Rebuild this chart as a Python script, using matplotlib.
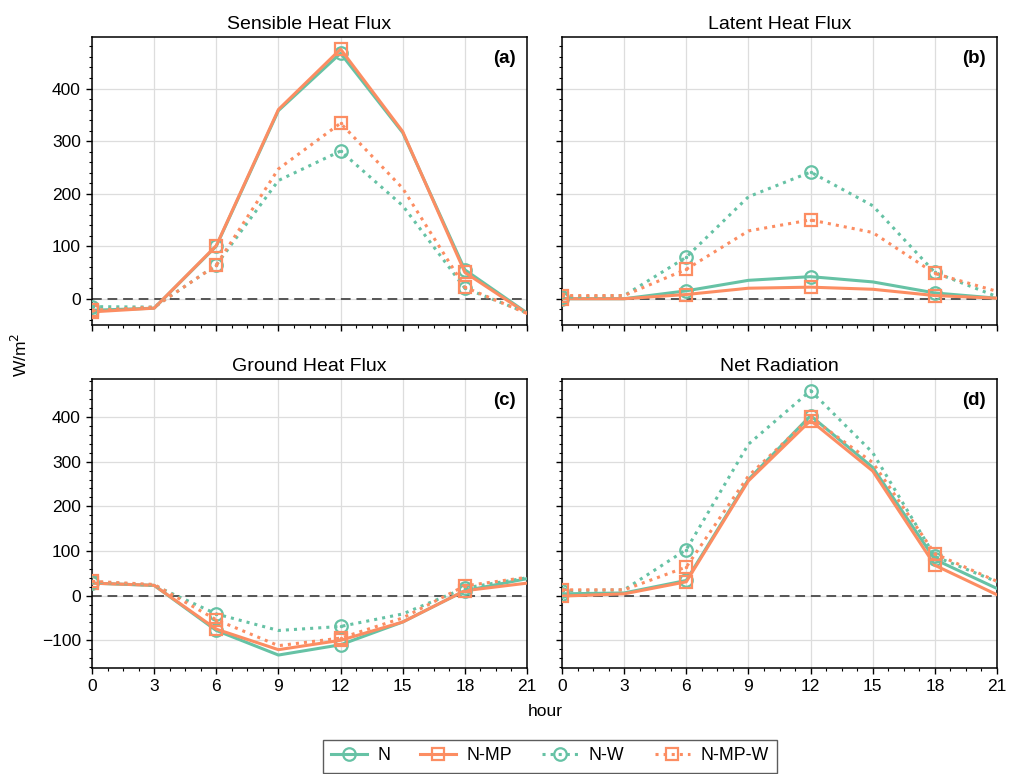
import matplotlib
matplotlib.use("Agg")
import matplotlib.pyplot as plt
from matplotlib.ticker import MultipleLocator
from matplotlib.lines import Line2D

plt.rcParams['font.family'] = ['Liberation Sans', 'DejaVu Sans']

hours = [0, 3, 6, 9, 12, 15, 18, 21]
series_names = ["N", "N-MP", "N-W", "N-MP-W"]
titles = ["Sensible Heat Flux", "Latent Heat Flux", "Ground Heat Flux", "Net Radiation"]
panel_labels = ["(a)", "(b)", "(c)", "(d)"]

# Sensible heat flux
sh_N      = [-22, -18, 100, 358, 467, 316, 55, -27]
sh_NMP    = [-25, -18, 101, 360, 475, 318, 50, -28]
sh_NW     = [-15, -16, 64, 225, 281, 177, 20, -27]
sh_NMPW   = [-22, -16, 64, 247, 334, 210, 22, -28]
# Latent heat flux
lh_N      = [0, 0, 15, 35, 42, 32, 11, 1]
lh_NMP    = [0, 0, 8, 20, 22, 18, 6, 1]
lh_NW     = [3, 6, 79, 194, 241, 177, 50, 4]
lh_NMPW   = [6, 6, 56, 129, 150, 126, 48, 14]
# Ground heat flux
gh_N      = [28, 23, -78, -133, -110, -59, 11, 38]
gh_NMP    = [28, 23, -75, -121, -100, -59, 11, 28]
gh_NW     = [31, 23, -41, -78, -69, -41, 17, 40]
gh_NMPW   = [32, 25, -54, -112, -95, -50, 22, 41]
# Net radiation
nr_N      = [4, 6, 34, 260, 403, 287, 81, 16]
nr_NMP    = [-1, 4, 31, 257, 392, 279, 68, 2]
nr_NW     = [11, 13, 103, 339, 459, 320, 88, 31]
nr_NMPW   = [13, 13, 64, 268, 399, 298, 94, 32]

panels = [
    [sh_N, sh_NMP, sh_NW, sh_NMPW],
    [lh_N, lh_NMP, lh_NW, lh_NMPW],
    [gh_N, gh_NMP, gh_NW, gh_NMPW],
    [nr_N, nr_NMP, nr_NW, nr_NMPW],
]

teal = "#66c2a5"
orange = "#fc8d62"
styles = [
    dict(color=teal, ls="-", marker="o", lw=2.2),
    dict(color=orange, ls="-", marker="s", lw=2.2),
    dict(color=teal, ls=":", marker="o", lw=2.2),
    dict(color=orange, ls=":", marker="s", lw=2.2),
]

fig = plt.figure(figsize=(10.18, 7.74), dpi=100)
W, H = 1018, 774
boxes = [(92, 37, 527, 325), (562, 37, 997, 325), (92, 379, 527, 668), (562, 379, 997, 668)]
ylims = [(-50, 498), (-50, 498), (-162, 485), (-162, 485)]

axes = []
for i, (x0, y0, x1, y1) in enumerate(boxes):
    ax = fig.add_axes([x0 / W, 1 - y1 / H, (x1 - x0) / W, (y1 - y0) / H])
    axes.append(ax)
    ax.axhline(0, color="#555555", ls=(0, (5, 3)), lw=1.4, zorder=1)
    for data, st in zip(panels[i], styles):
        ax.plot(hours, data, color=st["color"], ls=st["ls"], lw=st["lw"],
                marker=st["marker"], markevery=2, markersize=9,
                markerfacecolor="none", markeredgewidth=1.6, zorder=3)
        if st["ls"] == ":":
            ax.plot(hours[::2], data[::2], ls="none", marker=".", markersize=3,
                    color=st["color"], zorder=3)
    ax.set_xlim(0, 21)
    ax.set_ylim(*ylims[i])
    ax.xaxis.set_major_locator(MultipleLocator(3))
    ax.xaxis.set_minor_locator(MultipleLocator(0.75))
    ax.yaxis.set_major_locator(MultipleLocator(100))
    ax.yaxis.set_minor_locator(MultipleLocator(20))
    ax.grid(True, which="major", color="#dddddd", lw=0.9, zorder=0)
    ax.set_axisbelow(True)
    ax.tick_params(which="major", length=4.5, width=1, labelsize=12.5, direction="out")
    ax.tick_params(which="minor", length=2.5, width=0.8, direction="out")
    for sp in ax.spines.values():
        sp.set_linewidth(1.1)
    ax.set_title(titles[i], fontsize=14, pad=6)
    ax.text(0.975, 0.955, panel_labels[i], transform=ax.transAxes, ha="right", va="top",
            fontsize=13.5, fontweight="bold")
    if i in (0, 1):
        ax.tick_params(labelbottom=False)
    if i in (1, 3):
        ax.tick_params(labelleft=False)

fig.text(20 / W, 1 - 355 / H, "W/m$^2$", rotation=90, ha="center", va="center", fontsize=12.5)
fig.text(545 / W, 1 - 712 / H, "hour", ha="center", va="center", fontsize=12.5)

handles = []
for name, st in zip(series_names, styles):
    handles.append(Line2D([], [], color=st["color"], ls=st["ls"], lw=st["lw"],
                          marker=st["marker"], markersize=9, markerfacecolor="none",
                          markeredgewidth=1.6, label=name))
leg = fig.legend(handles=handles, loc="center", bbox_to_anchor=(550 / W, 1 - 756 / H),
                 ncol=4, frameon=True, fontsize=12.8, fancybox=False, edgecolor="#333333",
                 handlelength=2.0, handletextpad=0.6, columnspacing=1.7, borderpad=0.45)
leg.get_frame().set_linewidth(1.0)

fig.savefig("out.png", dpi=100)
